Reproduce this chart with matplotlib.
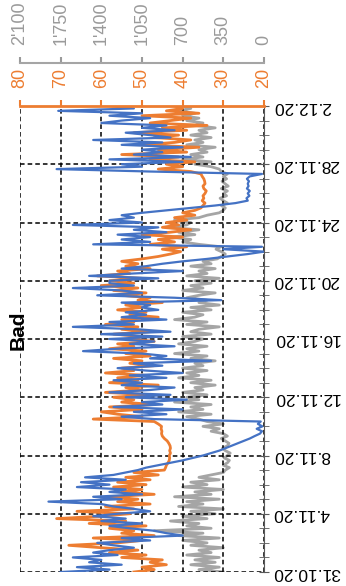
import numpy as np
import pandas as pd
import matplotlib
matplotlib.use("Agg")
import matplotlib.pyplot as plt
import matplotlib.dates as mdates
from matplotlib.ticker import FuncFormatter

plt.rcParams['font.family'] = ['Liberation Sans', 'DejaVu Sans']

# 4-hourly readings, 31.10.20 00:00 -> 2.12.20 00:00 (one row per day)
times = pd.date_range('2020-10-31', '2020-12-02', freq='4h')

orange = [
    52, 47, 50, 44, 48, 45,
    55, 49, 58, 51, 60, 68,
    56, 50, 62, 47, 55, 52,
    58, 49, 63, 54, 71, 60,
    53, 66, 52, 59, 48, 56,
    51, 58, 47, 55, 50, 57,
    49, 56, 48, 54, 46, 52,
    44.5, 44.2, 44, 43.6, 43.3, 43.2,
    43.3, 43, 43.2, 43, 43.1, 43.4,
    43.8, 44.5, 45, 45.2, 45.1, 45.3,
    45.2, 46, 47, 62, 50, 56,
    60, 50, 58, 47, 55, 52,
    57, 48, 59, 50, 54, 46,
    58, 51, 56, 49, 59, 52,
    55, 47, 53, 50, 57, 48,
    54, 49, 58, 52, 56, 47,
    53, 50, 57, 48, 55, 51,
    59, 52, 55, 46, 53, 49,
    56, 50, 54, 45, 51, 48,
    55, 49, 57, 51, 60, 52,
    58, 50, 61, 53, 56, 48,
    54, 51, 55, 50, 46, 43,
    40.5, 45, 39, 48, 42, 46,
    40, 50, 43, 38, 45, 41,
    44, 39, 42, 37, 40, 37,
    35.5, 35, 34.5, 35.2, 34.8, 35,
    34.5, 34.2, 34.8, 35, 34.5, 34.6,
    34.8, 35.2, 35.5, 38, 46, 40,
    44, 37, 48, 41, 55, 39,
    46, 36, 50, 42, 38, 47,
    41, 52, 39, 45, 34, 48,
    43, 38, 50, 36, 44, 40,
    42,
]

blue = [
    70, 58, 66, 55, 63, 60,
    67, 56, 62, 58, 52, 57,
    61, 48, 55, 40, 44, 47,
    53, 58, 50, 60, 54, 62,
    56, 48, 52, 57, 60, 73,
    55, 62, 50, 58, 54, 66,
    58, 65, 54, 64, 57, 54,
    51, 49, 46, 43, 40, 37.5,
    35, 33, 31, 29.5, 28, 26.5,
    25, 23.5, 22.3, 21, 20.5, 21.8,
    20.4, 21.5, 20.8, 47, 55, 44,
    52, 40, 57, 45, 50, 39,
    54, 43, 58, 48, 42, 55,
    50, 57, 44, 53, 40, 49,
    56, 45, 52, 33, 48, 44,
    50, 64.5, 56, 42, 53, 47,
    58, 45, 60, 43, 51, 67,
    52, 58, 44, 55, 49, 54,
    46, 50, 48, 55, 30.5, 42,
    61, 50, 55, 67, 52, 58,
    58, 46, 63, 52, 40, 55,
    49, 45, 40, 34, 29, 24,
    20, 30, 20.5, 62, 48, 55,
    48, 56, 44, 52, 46, 67,
    50, 58, 52, 55, 50, 44,
    38, 32, 27, 24, 24.3, 23.6,
    24, 23.5, 24.2, 23.8, 24, 23.7,
    24.2, 23.5, 20.5, 48, 71, 50,
    55, 40, 58, 38, 52, 45,
    50, 40, 55, 45, 62, 43,
    48, 54, 42, 50, 44, 60,
    55, 48, 58, 50, 70.6, 52,
    58,
]

gray = [
    350, 560, 385, 630, 420, 595,
    385, 665, 455, 560, 350, 630,
    490, 700, 385, 735, 525, 945,
    455, 665, 560, 805, 490, 700,
    420, 630, 350, 735, 525, 665,
    385, 770, 455, 595, 350, 700,
    490, 630, 385, 560, 455, 350,
    333, 298, 350, 315, 298, 343,
    315, 291, 333, 357, 315, 301,
    333, 368, 315, 350, 455, 385,
    525, 350, 490, 560, 665, 455,
    735, 525, 630, 455, 770, 560,
    665, 490, 700, 525, 595, 420,
    630, 455, 735, 560, 665, 490,
    700, 525, 595, 420, 630, 490,
    770, 560, 665, 490, 735, 595,
    525, 700, 455, 630, 560, 385,
    665, 490, 770, 595, 525, 700,
    455, 630, 385, 560, 490, 665,
    560, 420, 700, 525, 630, 455,
    595, 385, 665, 490, 560, 420,
    630, 455, 525, 403, 368, 333,
    368, 413, 371, 560, 700, 630,
    805, 595, 735, 560, 840, 665,
    630, 770, 560, 490, 385, 350,
    333, 368, 315, 350, 378, 322,
    350, 315, 368, 308, 336, 361,
    322, 350, 315, 368, 385, 455,
    595, 455, 700, 525, 630, 490,
    560, 420, 665, 525, 595, 455,
    630, 490, 560, 420, 595, 525,
    665, 560, 700, 595, 735, 630,
    700,
]

date_ticks = pd.date_range('2020-10-31', '2020-12-02', freq='4D')
date_labels = ['31.10.20', '4.11.20', '8.11.20', '12.11.20', '16.11.20',
               '20.11.20', '24.11.20', '28.11.20', '2.12.20']
orange_ticks = [20, 30, 40, 50, 60, 70, 80]
gray_ticks = [0, 350, 700, 1050, 1400, 1750, 2100]

c_orange = '#ED7D31'
c_blue = '#4472C4'
c_gray = '#A5A5A5'

fig = plt.figure(figsize=(3.46, 5.86), dpi=100)
ax = fig.add_axes([20 / 346, 14 / 586, 244 / 346, 466 / 586])
ax_g = ax.twiny()
ax.set_zorder(2)
ax_g.set_zorder(1)
ax.patch.set_visible(False)

# gray series on its own (outer) axis
ax_g.plot(gray, times, color=c_gray, lw=2)
ax_g.set_xlim(2100, 0)
ax_g.set_xticks(gray_ticks)
ax_g.xaxis.set_major_formatter(FuncFormatter(lambda v, _: f"{int(v):,}".replace(',', "'")))
ax_g.tick_params(axis='x', colors='#9A9A9A', labelsize=13, labelrotation=90, length=4, width=1.5, pad=9)
ax_g.spines['top'].set_position(('outward', 31))
ax_g.spines['top'].set_color(c_gray)
ax_g.spines['top'].set_linewidth(1.5)
for s in ['left', 'right', 'bottom']:
    ax_g.spines[s].set_visible(False)

ax.plot(orange, times, color=c_orange, lw=2)
ax.plot(blue, times, color=c_blue, lw=1.6)

ax.set_xlim(80, 20)
ax.set_ylim(times[0], times[-1])
ax.xaxis.tick_top()
ax.set_xticks(orange_ticks)
ax.tick_params(axis='x', colors=c_orange, labelsize=13, labelrotation=90, length=4, width=1.5, pad=9)

ax.yaxis.tick_right()
ax.set_yticks(date_ticks)
ax.set_yticklabels(date_labels, rotation=180, va='center')
ax.yaxis.set_minor_locator(mdates.DayLocator())
ax.tick_params(axis='y', which='both', direction='inout', length=7, color='#595959', labelsize=12.5, pad=3)

ax.grid(True, which='major', color='black', linestyle=(0, (3, 2)), linewidth=1.1)
ax.spines['left'].set_visible(False)
ax.spines['bottom'].set_visible(False)
ax.spines['top'].set_color(c_orange)
ax.spines['top'].set_linewidth(2)
ax.spines['right'].set_color('#595959')

fig.text(18 / 346, 1 - 330 / 586, 'Bad', rotation=90, fontsize=15, fontweight='bold',
         ha='center', va='center')

fig.savefig('out.png', dpi=100)
